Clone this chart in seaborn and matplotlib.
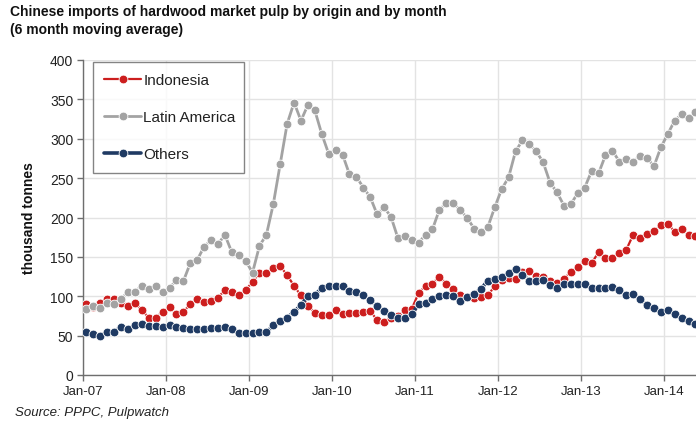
import matplotlib
matplotlib.use("Agg")
import matplotlib.pyplot as plt
import numpy as np
import pandas as pd
import seaborn as sns

# ---- data (6-month moving average, thousand tonnes), Jan-07 .. May-14 ----
month_index = list(range(89))
indonesia = [90, 86, 91, 97, 96, 92, 88, 92, 82, 73, 73, 80, 86, 77, 80, 90, 96, 93, 94, 98,
             108, 106, 101, 108, 118, 130, 130, 136, 138, 127, 113, 101, 88, 79, 76, 76, 82, 77, 79, 79,
             80, 81, 70, 67, 72, 75, 82, 84, 104, 113, 116, 125, 116, 109, 102, 99, 98, 99, 101, 113,
             121, 123, 122, 131, 132, 126, 124, 120, 117, 122, 131, 137, 145, 142, 156, 149, 149, 155, 159, 178,
             174, 179, 183, 190, 192, 182, 185, 178, 177]
latin_america = [84, 87, 85, 92, 90, 96, 106, 106, 113, 109, 113, 105, 110, 121, 119, 142, 146, 163, 171, 166,
                 178, 156, 152, 145, 130, 164, 178, 217, 268, 319, 346, 323, 343, 336, 306, 281, 286, 280, 255, 252,
                 238, 226, 204, 213, 201, 174, 177, 172, 168, 178, 185, 210, 218, 219, 209, 200, 186, 181, 188, 213,
                 236, 251, 284, 298, 293, 284, 270, 244, 232, 215, 217, 231, 238, 259, 256, 279, 285, 271, 274, 271,
                 278, 276, 265, 289, 306, 323, 331, 326, 334]
others = [55, 52, 50, 55, 55, 61, 58, 63, 65, 62, 62, 61, 63, 61, 60, 58, 58, 58, 60, 60,
          61, 58, 53, 53, 53, 54, 54, 63, 68, 73, 80, 89, 100, 102, 110, 113, 113, 113, 107, 106,
          101, 95, 87, 81, 76, 72, 72, 77, 90, 92, 97, 100, 101, 100, 94, 99, 103, 109, 120, 122,
          124, 130, 134, 127, 120, 120, 121, 114, 111, 116, 116, 116, 116, 111, 110, 110, 112, 108, 101, 103,
          96, 89, 85, 80, 82, 77, 72, 68, 65]
tick_labels = ["Jan-07", "Jan-08", "Jan-09", "Jan-10", "Jan-11", "Jan-12", "Jan-13", "Jan-14"]
series_names = ["Indonesia", "Latin America", "Others"]

df = pd.DataFrame({
    "month": month_index * 3,
    "value": indonesia + latin_america + others,
    "origin": [series_names[0]] * 89 + [series_names[1]] * 89 + [series_names[2]] * 89,
})

sns.set_theme(style="white")
plt.rcParams["font.family"] = ["Liberation Sans", "DejaVu Sans"]

colors = {"Indonesia": "#CC1E1E", "Latin America": "#A3A3A3", "Others": "#1F3A63"}
widths = {"Indonesia": 1.6, "Latin America": 2.0, "Others": 2.6}

fig = plt.figure(figsize=(6.96, 4.27), dpi=100)
ax = fig.add_axes([83 / 696, 51 / 427, 613 / 696, 315 / 427])

for name in series_names:
    sns.lineplot(data=df[df["origin"] == name], x="month", y="value", ax=ax,
                 color=colors[name], linewidth=widths[name], marker="o", markersize=6.3,
                 markeredgecolor="white", markeredgewidth=0.6, label=name, zorder=3)

ax.set_xlim(-0.5, 88.08)
ax.set_ylim(0, 400)
ax.set_xticks([i * 12 - 0.5 for i in range(len(tick_labels))])
ax.set_xticklabels(tick_labels, fontsize=9.5)
ax.set_yticks(range(0, 401, 50))
ax.set_yticklabels([str(v) for v in range(0, 401, 50)], fontsize=10)
ax.set_xlabel("")
ax.set_ylabel("")
ax.grid(True, color="#E3E3E3", linewidth=1.0)
ax.set_axisbelow(True)
for s in ["top", "right"]:
    ax.spines[s].set_visible(False)
for s in ["left", "bottom"]:
    ax.spines[s].set_color("#6E6E6E")
    ax.spines[s].set_linewidth(1.0)
ax.tick_params(axis="both", which="both", direction="out", length=4, width=1.0,
               color="#6E6E6E", labelcolor="#222222", bottom=True, left=True, pad=3)

leg = ax.legend(loc="upper left", bbox_to_anchor=(0.0163, 0.0, 0.246, 0.994), mode="expand",
                frameon=True, fancybox=False,
                edgecolor="#666666", fontsize=11, labelspacing=1.5, handlelength=2.4,
                handletextpad=0.15, borderpad=0.75, borderaxespad=0)
leg.get_frame().set_linewidth(1.0)
for t in leg.get_texts():
    t.set_color("#222222")

fig.text(10 / 696, 1 - 5 / 427,
         "Chinese imports of hardwood market pulp by origin and by month\n(6 month moving average)",
         ha="left", va="top", fontsize=10, fontweight="bold", color="#111111", linespacing=1.35)
fig.text(29 / 696, 1 - 218 / 427, "thousand tonnes", rotation=90, ha="center", va="center",
         fontsize=10, fontweight="bold", color="#111111")
fig.text(15 / 696, 1 - 413 / 427, "Source: PPPC, Pulpwatch", ha="left", va="center",
         fontsize=9.5, style="italic", color="#222222")

fig.savefig("out.png", dpi=100)
